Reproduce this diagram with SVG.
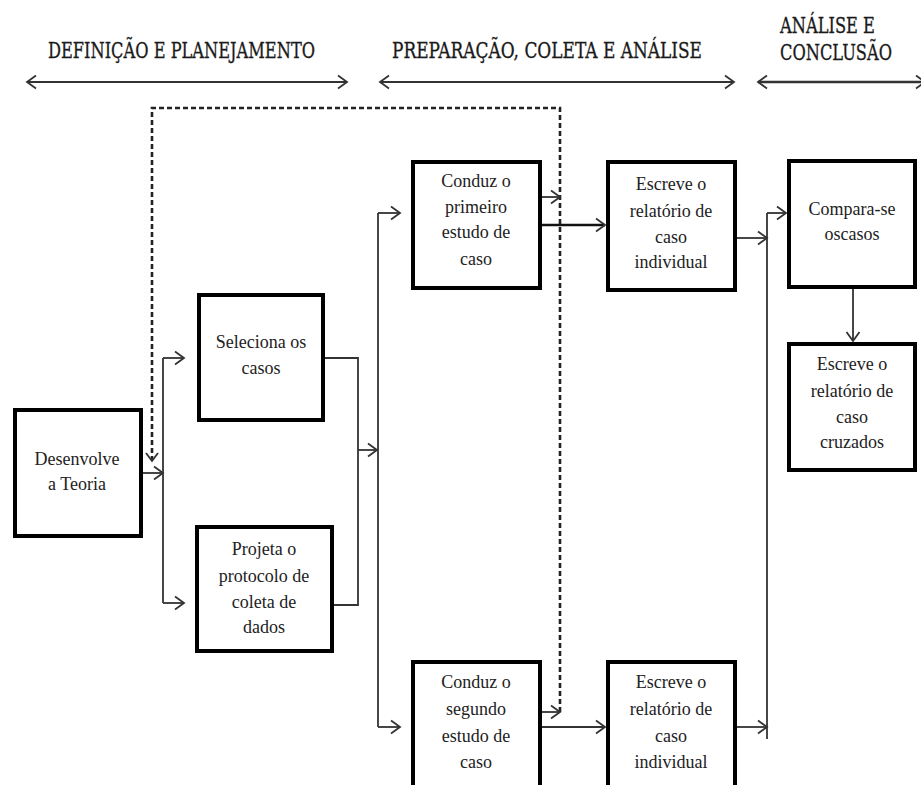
<svg xmlns="http://www.w3.org/2000/svg" width="921" height="785" viewBox="0 0 921 785">
<style>
.box{fill:#fff;stroke:#000;stroke-width:4}
.t{font-family:"Liberation Serif","DejaVu Serif",serif;font-size:18px;fill:#222;text-anchor:middle}
.h{font-family:"DejaVu Serif Condensed","Liberation Serif",serif;font-size:22px;fill:#1a1a1a;stroke:#1a1a1a;stroke-width:0.3}
.c{fill:none;stroke:#333;stroke-width:1.8}
.thick{fill:none;stroke:#111;stroke-width:2.6}
.dash{fill:none;stroke:#222;stroke-width:2.6;stroke-dasharray:5 3}
</style>
<defs>
<marker id="ah" viewBox="-1 -8 12 16" markerWidth="12" markerHeight="16" refX="9" refY="0" orient="auto-start-reverse" markerUnits="userSpaceOnUse">
<path d="M0,-6.5 L9,0 L0,6.5" fill="none" stroke="#333" stroke-width="1.8"/>
</marker>
</defs>
<rect width="921" height="785" fill="#fff"/>

<g id="headers">
<text class="h" x="48" y="58" textLength="267" lengthAdjust="spacingAndGlyphs">DEFINIÇÃO E PLANEJAMENTO</text>
<text class="h" x="392" y="58" textLength="310" lengthAdjust="spacingAndGlyphs">PREPARAÇÃO, COLETA E ANÁLISE</text>
<text class="h" x="780" y="33" textLength="95" lengthAdjust="spacingAndGlyphs">ANÁLISE E</text>
<text class="h" x="780" y="60" textLength="112" lengthAdjust="spacingAndGlyphs">CONCLUSÃO</text>
</g>

<g id="connectors">
<line class="c" x1="27" y1="82" x2="347" y2="82" marker-start="url(#ah)" marker-end="url(#ah)"/>
<line class="c" x1="380" y1="82" x2="734" y2="82" marker-start="url(#ah)" marker-end="url(#ah)"/>
<line class="c" x1="758" y1="82" x2="925" y2="82" marker-start="url(#ah)" marker-end="url(#ah)" style="stroke-width:2.4"/>
<polyline class="dash" points="560,712 560,108 152,108 152,460"/>
<path d="M146,453 L152,461 L158,453" fill="none" stroke="#333" stroke-width="1.8"/>
<line class="c" x1="143" y1="473" x2="163" y2="473" marker-end="url(#ah)"/>
<line class="c" x1="163" y1="358" x2="163" y2="603"/>
<line class="c" x1="163" y1="358" x2="184" y2="358" marker-end="url(#ah)"/>
<line class="c" x1="163" y1="603" x2="184" y2="603" marker-end="url(#ah)"/>
<polyline class="c" points="325,358 358,358 358,605 334,605"/>
<line class="c" x1="358" y1="450" x2="377" y2="450" marker-end="url(#ah)"/>
<line class="c" x1="378" y1="213" x2="378" y2="727"/>
<line class="c" x1="378" y1="213" x2="400" y2="213" marker-end="url(#ah)"/>
<line class="c" x1="378" y1="727" x2="400" y2="727" marker-end="url(#ah)"/>
<line class="c" x1="542" y1="197" x2="560" y2="197" marker-end="url(#ah)"/>
<line class="c" x1="542" y1="712" x2="560" y2="712" marker-end="url(#ah)"/>
<line class="thick" x1="542" y1="225" x2="605" y2="225" marker-end="url(#ah)"/>
<line class="c" x1="542" y1="727" x2="605" y2="727" marker-end="url(#ah)"/>
<line class="c" x1="737" y1="238" x2="767" y2="238" marker-end="url(#ah)"/>
<line class="c" x1="737" y1="727" x2="767" y2="727" marker-end="url(#ah)"/>
<line class="c" x1="767" y1="213" x2="767" y2="739"/>
<line class="c" x1="767" y1="213" x2="786" y2="213" marker-end="url(#ah)"/>
<line class="c" x1="853" y1="289" x2="853" y2="341" marker-end="url(#ah)"/>
</g>

<g id="desenvolve">
<rect class="box" x="15" y="410" width="126" height="126"/>
<text class="t" x="77" y="465">Desenvolve</text>
<text class="t" x="77" y="490">a Teoria</text>
</g>

<g id="seleciona">
<rect class="box" x="199" y="295" width="124" height="125"/>
<text class="t" x="261" y="348">Seleciona os</text>
<text class="t" x="261" y="374">casos</text>
</g>

<g id="projeta">
<rect class="box" x="197" y="527" width="135" height="124"/>
<text class="t" x="264" y="555">Projeta o</text>
<text class="t" x="264" y="582">protocolo de</text>
<text class="t" x="264" y="608">coleta de</text>
<text class="t" x="264" y="633">dados</text>
</g>

<g id="conduz1">
<rect class="box" x="413" y="162" width="127" height="126"/>
<text class="t" x="476" y="187">Conduz o</text>
<text class="t" x="476" y="213">primeiro</text>
<text class="t" x="476" y="238">estudo de</text>
<text class="t" x="476" y="265">caso</text>
</g>

<g id="escreve1">
<rect class="box" x="608" y="162" width="127" height="128"/>
<text class="t" x="671" y="190">Escreve o</text>
<text class="t" x="671" y="217">relatório de</text>
<text class="t" x="671" y="243">caso</text>
<text class="t" x="671" y="268">individual</text>
</g>

<g id="compara">
<rect class="box" x="789" y="161" width="126" height="126"/>
<text class="t" x="852" y="215">Compara-se</text>
<text class="t" x="852" y="240">oscasos</text>
</g>

<g id="cruzados">
<rect class="box" x="789" y="344" width="126" height="126"/>
<text class="t" x="852" y="370">Escreve o</text>
<text class="t" x="852" y="397">relatório de</text>
<text class="t" x="852" y="423">caso</text>
<text class="t" x="852" y="448">cruzados</text>
</g>

<g id="conduz2">
<rect class="box" x="413" y="662" width="127" height="140"/>
<text class="t" x="476" y="688">Conduz o</text>
<text class="t" x="476" y="715">segundo</text>
<text class="t" x="476" y="742">estudo de</text>
<text class="t" x="476" y="768">caso</text>
</g>

<g id="escreve2">
<rect class="box" x="608" y="662" width="127" height="140"/>
<text class="t" x="671" y="688">Escreve o</text>
<text class="t" x="671" y="715">relatório de</text>
<text class="t" x="671" y="742">caso</text>
<text class="t" x="671" y="768">individual</text>
</g>
</svg>
